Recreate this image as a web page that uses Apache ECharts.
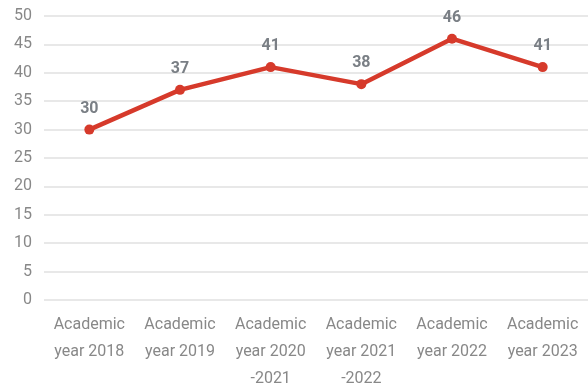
<!DOCTYPE html>
<html>
<head>
<meta charset="utf-8">
<script src="https://cdn.jsdelivr.net/npm/echarts@6/dist/echarts.min.js"></script>
<style>
  html, body { margin: 0; padding: 0; background: #fff; }
  #chart { width: 588px; height: 392px; }
</style>
</head>
<body>
<div id="chart"></div>
<script>
// Academic years along the x axis
const categories = [
  'Academic\nyear 2018',
  'Academic\nyear 2019',
  'Academic\nyear 2020\n-2021',
  'Academic\nyear 2021\n-2022',
  'Academic\nyear 2022',
  'Academic\nyear 2023'
];
// Yearly values
const values = [30, 37, 41, 38, 46, 41];
// Y axis range
const yMin = 0, yMax = 50, yStep = 5;

const chart = echarts.init(document.getElementById('chart'), null, { renderer: 'canvas' });
chart.setOption({
  animation: false,
  backgroundColor: '#ffffff',
  textStyle: { fontFamily: 'Roboto' },
  grid: { left: 44, right: -6, top: 16, bottom: 88, containLabel: false },
  xAxis: {
    type: 'category',
    data: categories,
    boundaryGap: true,
    axisLine: { show: false },
    axisTick: { show: false },
    axisLabel: {
      color: '#888888',
      fontSize: 16,
      lineHeight: 27,
      margin: 11,
      interval: 0,
      verticalAlign: 'top'
    }
  },
  yAxis: {
    type: 'value',
    min: yMin,
    max: yMax,
    interval: yStep,
    axisLine: { show: false },
    axisTick: { show: false },
    splitLine: { lineStyle: { color: '#e0e0e0', width: 1.5 } },
    axisLabel: { color: '#888888', fontSize: 16, margin: 12 }
  },
  series: [{
    type: 'line',
    data: values,
    symbol: 'circle',
    symbolSize: 10,
    lineStyle: { color: '#d63a2b', width: 4.5 },
    itemStyle: { color: '#d63a2b' },
    label: {
      show: true,
      position: 'top',
      distance: 8,
      color: '#7a7f85',
      fontSize: 16,
      fontWeight: 'bold'
    }
  }]
});
</script>
</body>
</html>
